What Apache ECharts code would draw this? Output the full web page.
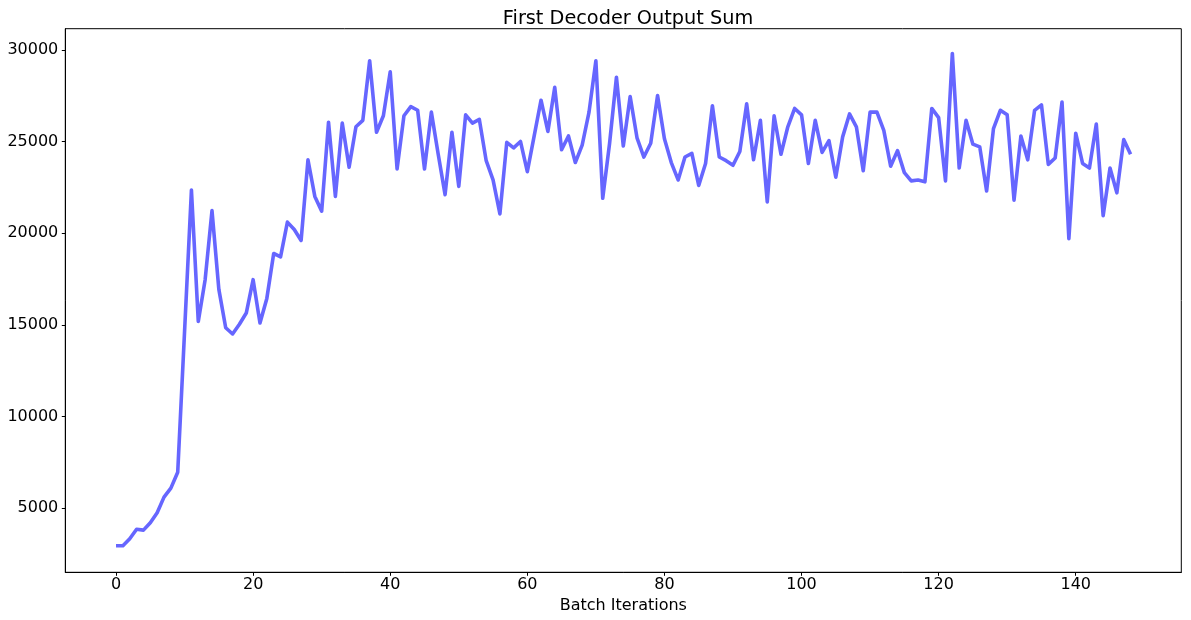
<!DOCTYPE html>
<html>
<head>
<meta charset="utf-8">
<script src="https://cdn.jsdelivr.net/npm/echarts@6/dist/echarts.min.js"></script>
<style>
html,body{margin:0;padding:0;background:#fff;}
#chart{width:1191px;height:620px;}
</style>
</head>
<body>
<div id="chart"></div>
<script>
var titleText = "First Decoder Output Sum";
var xAxisName = "Batch Iterations";
var xTicks = [0, 20, 40, 60, 80, 100, 120, 140];
var yTicks = [5000, 10000, 15000, 20000, 25000, 30000];
var decoderSum = [
  2950, 2950, 3330, 3850, 3800, 4200, 4750, 5600, 6090, 6960,
  14650, 22350, 15180, 17460, 21230, 16930, 14840, 14500, 15030, 15640,
  17460, 15100, 16440, 18890, 18700, 20600, 20200, 19600, 24000, 22000,
  21200, 26050, 22000, 26000, 23600, 25800, 26150, 29400, 25500, 26400,
  28800, 23500, 26400, 26900, 26700, 23500, 26600, 24300, 22100, 25500,
  22550, 26450, 26000, 26200, 23950, 22900, 21050, 24950, 24650, 25000,
  23350, 25300, 27250, 25550, 27950, 24550, 25300, 23850, 24800, 26600,
  29400, 21900, 24900, 28500, 24750, 27450, 25200, 24150, 24900, 27500,
  25150, 23850, 22900, 24150, 24350, 22600, 23800, 26950, 24150, 23950,
  23700, 24450, 27050, 24000, 26150, 21700, 26400, 24300, 25800, 26800,
  26450, 23800, 26150, 24400, 25050, 23050, 25250, 26500, 25800, 23400,
  26600, 26600, 25600, 23650, 24500, 23300, 22850, 22900, 22800, 26800,
  26300, 22850, 29800, 23550, 26150, 24850, 24700, 22300, 25700, 26700,
  26450, 21800, 25300, 24000, 26700, 27000, 23750, 24100, 27150, 19700,
  25450, 23800, 23550, 25950, 20950, 23550, 22200, 25100, 24300
];
var seriesData = decoderSum.map(function (v, i) { return [i, v]; });

var font = "DejaVu Sans";
var plain = function (v) { return String(v); };
var chart = echarts.init(document.getElementById('chart'), null, {renderer: 'canvas'});
chart.setOption({
  animation: false,
  backgroundColor: '#ffffff',
  title: {
    text: titleText,
    left: 623,
    top: 4,
    textAlign: 'center',
    textStyle: {fontFamily: font, fontSize: 19.3, fontWeight: 'normal', color: '#000'}
  },
  grid: {
    left: 65.3, right: 9.7, top: 28.7, bottom: 47.7,
    show: true, borderColor: '#000', borderWidth: 1, backgroundColor: '#fff'
  },
  xAxis: {
    type: 'value',
    min: -7.4, max: 155.4,
    name: xAxisName,
    nameLocation: 'middle',
    nameGap: 23,
    nameTextStyle: {fontFamily: font, fontSize: 16, color: '#000'},
    axisLine: {show: true, onZero: false, lineStyle: {color: '#000', width: 1}},
    axisTick: {show: true, length: 3.5, customValues: xTicks, lineStyle: {color: '#000', width: 1}},
    axisLabel: {show: true, customValues: xTicks, margin: 5, formatter: plain, fontFamily: font, fontSize: 16, color: '#000'},
    splitLine: {show: false}
  },
  yAxis: {
    type: 'value',
    min: 1500, max: 31150,
    axisLine: {show: true, onZero: false, lineStyle: {color: '#000', width: 1}},
    axisTick: {show: true, length: 3.5, customValues: yTicks, lineStyle: {color: '#000', width: 1}},
    axisLabel: {show: true, customValues: yTicks, margin: 7, formatter: plain, fontFamily: font, fontSize: 16, color: '#000'},
    splitLine: {show: false}
  },
  series: [{
    type: 'line',
    data: seriesData,
    showSymbol: false,
    symbol: 'none',
    lineStyle: {color: '#6666ff', width: 3.6, join: 'round'},
    itemStyle: {color: '#6666ff'}
  }]
});
</script>
</body>
</html>
